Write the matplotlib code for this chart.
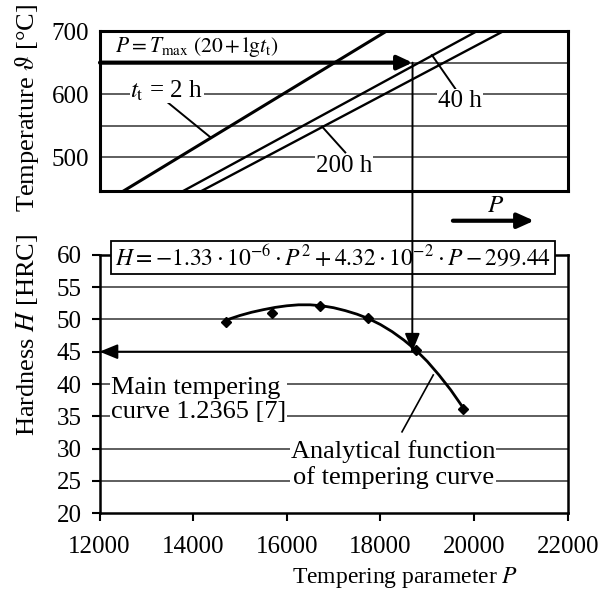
import numpy as np
import matplotlib
matplotlib.use("Agg")
import matplotlib.pyplot as plt
from matplotlib.patches import ConnectionPatch

plt.rcParams['font.family'] = ['Liberation Serif', 'DejaVu Serif']
plt.rcParams['mathtext.fontset'] = 'stix'

# --- top panel: tempering parameter lines (P at bottom / top edge of panel)
temp_ends = [447, 700]
line_2h = [12502, 18128]
line_40h = [13777, 20063]
line_200h = [14168, 20629]
temp_grid = [500, 550, 600, 650]
temp_ticks = [500, 600, 700]

# working point
p_work = 18681
temp_work = 650
hard_work = 45

# --- bottom panel: hardness data points and analytical curve
p_meas = [14695, 15678, 16710, 17741, 18753, 19757]
h_meas = [49.6, 51.0, 52.0, 50.2, 45.3, 36.1]
p_curve = [14750, 15000, 15250, 15500, 15750, 16000, 16250, 16500, 16750,
           17000, 17250, 17500, 17750, 18000, 18250, 18500, 18750, 19000,
           19250, 19500, 19750]
h_curve = [50.0, 50.6, 51.1, 51.5, 51.85, 52.1, 52.25, 52.25, 52.1,
           51.8, 51.35, 50.8, 50.1, 49.2, 48.1, 46.8, 45.3, 43.5,
           41.4, 39.1, 36.5]
hard_grid = [25, 30, 35, 40, 45, 50, 55]
hard_ticks = [20, 25, 30, 35, 40, 45, 50, 55, 60]
p_ticks = [12000, 14000, 16000, 18000, 20000, 22000]

GRID = '#333333'

fig = plt.figure(figsize=(6.12, 5.91), dpi=100)
ax1 = fig.add_axes([0.1634, 0.6768, 0.7644, 0.2707])
ax2 = fig.add_axes([0.1626, 0.1315, 0.765, 0.4375])

# ---------------- top panel
ax1.set_xlim(12000, 22000)
ax1.set_ylim(temp_ends[0], temp_ends[1])
for t in temp_grid:
    ax1.axhline(t, color=GRID, lw=1.1, zorder=1)
ax1.plot(line_2h, temp_ends, color='k', lw=2.2, zorder=3)
ax1.plot(line_40h, temp_ends, color='k', lw=1.7, zorder=3)
ax1.plot(line_200h, temp_ends, color='k', lw=1.7, zorder=3)
ax1.set_xticks([])
ax1.set_yticks(temp_ticks)
ax1.tick_params(axis='y', length=0, pad=8, labelsize=18)
for s in ax1.spines.values():
    s.set_linewidth(2.2)

ax1.text(12330, 675, r'$P = T_{\mathrm{max}}\ (20 + \mathrm{lg}t_{\mathrm{t}})$',
         fontsize=15.5, ha='left', va='center')
ax1.text(12651, 606, r'$t_{\mathrm{t}}$ = 2 h', fontsize=18, ha='left', va='center',
         bbox=dict(fc='white', ec='none', pad=0.5), zorder=4)
ax1.plot([13399, 14360], [590, 532], color='k', lw=1.4, zorder=3)
ax1.text(19699, 589, '40 h', fontsize=18, ha='center', va='center',
         bbox=dict(fc='white', ec='none', pad=0.5), zorder=4)
ax1.plot([19593, 19095], [609, 662], color='k', lw=1.4, zorder=3)
ax1.text(17211, 486, '200 h', fontsize=18, ha='center', va='center',
         bbox=dict(fc='white', ec='none', pad=0.5), zorder=4)
ax1.plot([17243, 16745], [508, 549], color='k', lw=1.4, zorder=3)

# thick arrow at working temperature
ax1.annotate('', xy=(p_work, temp_work), xytext=(12000, temp_work),
             arrowprops=dict(arrowstyle='-|>,head_length=0.9,head_width=0.42',
                             lw=3, color='k', shrinkA=0, shrinkB=0,
                             mutation_scale=10), zorder=5)
# "P ->" arrow under the top panel
ax1.annotate('', xy=(21280, 400), xytext=(19544, 400), annotation_clip=False,
             arrowprops=dict(arrowstyle='-|>,head_length=1.0,head_width=0.45',
                             lw=3, color='k', shrinkA=0, shrinkB=0,
                             mutation_scale=10))
ax1.text(20463, 423, r'$P$', fontsize=18, ha='center', va='center', clip_on=False)

ax1.set_ylabel(r'Temperature $\vartheta$ [°C]', fontsize=19)
ax1.yaxis.label.set_va('center')
ax1.yaxis.set_label_coords(-0.155, 0.52)

# ---------------- bottom panel
ax2.set_xlim(12000, 22000)
ax2.set_ylim(20, 60)
for h in hard_grid:
    ax2.axhline(h, color=GRID, lw=1.1, zorder=1)
ax2.plot(p_curve, h_curve, color='k', lw=2.0, zorder=3)
ax2.plot(p_meas, h_meas, linestyle='none', marker='D', ms=5.5, color='k', zorder=4)
ax2.set_xticks(p_ticks)
ax2.set_yticks(hard_ticks)
ax2.tick_params(direction='out', length=6, width=1.5, pad=7, labelsize=18)
ax2.tick_params(axis='x', pad=10)
for s in ax2.spines.values():
    s.set_linewidth(1.8)

ax2.annotate('', xy=(12000, hard_work), xytext=(p_work, hard_work),
             arrowprops=dict(arrowstyle='-|>,head_length=1.1,head_width=0.45',
                             lw=1.4, color='k', shrinkA=0, shrinkB=0,
                             mutation_scale=10), zorder=5)

con = ConnectionPatch(xyA=(p_work, temp_work), coordsA=ax1.transData,
                      xyB=(p_work, hard_work), coordsB=ax2.transData,
                      arrowstyle='-|>,head_length=1.1,head_width=0.45',
                      mutation_scale=10, lw=1.4, color='k',
                      shrinkA=0, shrinkB=0, zorder=5)
fig.add_artist(con)

ax2.text(16987, 59.6,
         r'$H = -1.33\cdot10^{-6}\cdot P^{2} + 4.32\cdot10^{-2}\cdot P - 299.44$',
         fontsize=17, ha='center', va='center', zorder=6, clip_on=False,
         bbox=dict(boxstyle='square,pad=0.15', fc='white', ec='k', lw=1.3))

ax2.text(12246, 37.5, 'Main tempering\ncurve 1.2365 [7]', fontsize=19,
         ha='left', va='center', linespacing=1.15,
         bbox=dict(fc='white', ec='none', pad=0.5), zorder=4)
ax2.text(18275, 27.5, 'Analytical function\nof tempering curve', fontsize=19,
         ha='center', va='center', linespacing=1.15,
         bbox=dict(fc='white', ec='none', pad=0.5), zorder=4)
ax2.plot([18461, 19129], [32.6, 41.4], color='k', lw=1.2, zorder=3)

ax2.set_xlabel(r'Tempering parameter $P$', fontsize=17)
ax2.xaxis.label.set_va('center')
ax2.xaxis.set_label_coords(0.653, -0.25)
ax2.set_ylabel(r'Hardness $H$ [HRC]', fontsize=19)
ax2.yaxis.label.set_va('center')
ax2.yaxis.set_label_coords(-0.154, 0.69)

fig.savefig('out.png', dpi=100)
